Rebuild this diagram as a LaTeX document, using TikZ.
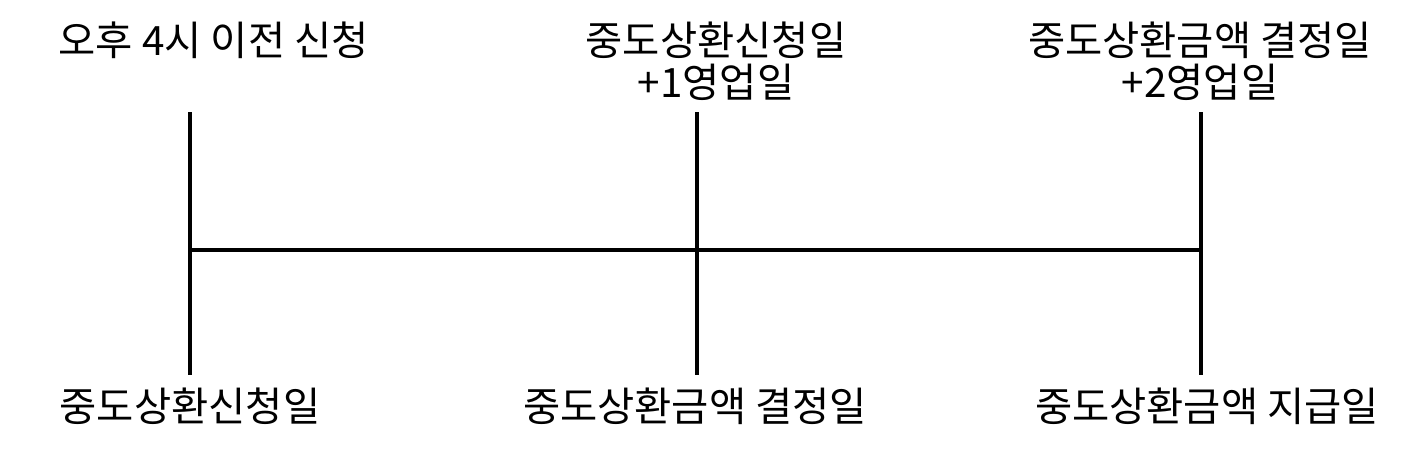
\documentclass[tikz,border=0pt]{standalone}
\usepackage{fontspec}
\setmainfont{Noto Sans CJK KR}
\usetikzlibrary{positioning}

\begin{document}
\begin{tikzpicture}[x=0.01cm, y=-0.01cm,
    every node/.style={font=\fontsize{11.5pt}{12pt}\selectfont, inner sep=0pt},
    tick/.style={line width=1pt}]
    \useasboundingbox (0,0) rectangle (1407,453);

    % Tick marks
    \coordinate (top1) at (190,112);  \coordinate (bot1) at (190,375);
    \coordinate (top2) at (697,112);  \coordinate (bot2) at (697,375);
    \coordinate (top3) at (1201,112); \coordinate (bot3) at (1201,375);
    \coordinate (mid1) at (190,250);
    \coordinate (mid3) at (1201,250);
    \draw[tick] (top1) -- (bot1);
    \draw[tick] (top2) -- (bot2);
    \draw[tick] (top3) -- (bot3);

    % Time line
    \draw[tick] (mid1) -- (mid3);

    % Upper labels
    \node[anchor=west] (cutoff) at (58,40) {오후 4시 이전 신청};
    \node[align=center] (nextday) at (716,61) {중도상환신청일\\+1영업일};
    \node[align=center] (twoday) at (1200,61) {중도상환금액 결정일\\+2영업일};

    % Lower labels
    \node (applyday) at (190,406) {중도상환신청일};
    \node (fixday) at (695,406) {중도상환금액 결정일};
    \node (payday) at (1207,406) {중도상환금액 지급일};
\end{tikzpicture}
\end{document}
